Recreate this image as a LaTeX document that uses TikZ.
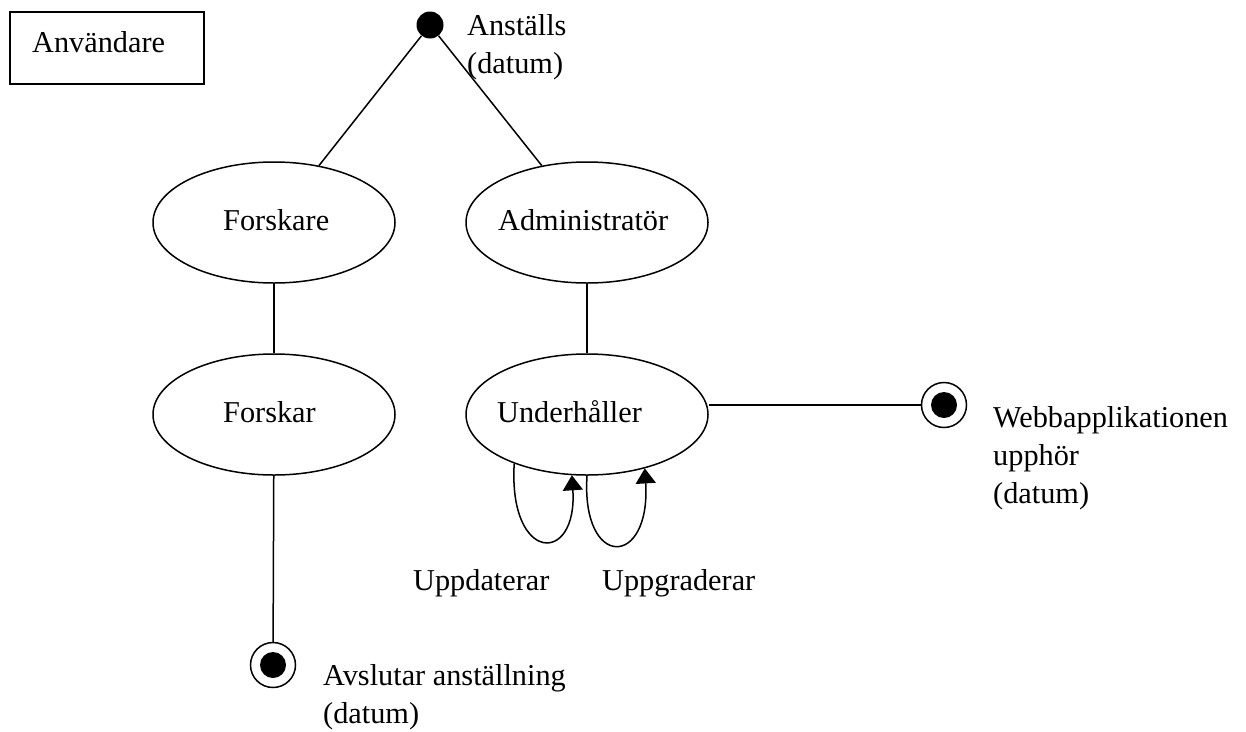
\documentclass[tikz,border=0pt]{standalone}
\usepackage{fontspec}
\setmainfont{Liberation Serif}
\usetikzlibrary{shapes.geometric,arrows.meta}
\begin{document}
\begin{tikzpicture}[x=1pt,y=-1pt,
  lw/.style={line width=1.5pt},
  state/.style={ellipse,draw,lw,minimum width=242pt,minimum height=121pt,inner sep=0pt},
  txt/.style={anchor=base west,inner sep=0pt,font=\fontsize{30.3}{38.5}\selectfont},
  startdot/.style={circle,fill=black,minimum size=27pt,inner sep=0pt},
  endring/.style={circle,draw,lw,minimum size=45pt,inner sep=0pt},
  enddot/.style={circle,fill=black,minimum size=26pt,inner sep=0pt},
  tip/.style={-{Triangle[width=20pt,length=15pt]}}]
\useasboundingbox (0,0) rectangle (1246,731);

% header box
\node[draw,lw,minimum width=194pt,minimum height=72pt,anchor=north west,inner sep=0pt] (user) at (9,11) {};
\node[txt] (usertxt) at (32,52) {Användare};

% initial state
\node[startdot] (init) at (430,25) {};
\node[txt] (initlbl) at (467,35) {Anställs};
\node[txt] (initdat) at (467,73.5) {(datum)};

% roles
\node[state] (forskare) at (274,222.5) {};
\node[txt] (forskaretxt) at (223,230) {Forskare};
\node[state] (admin) at (587,222.5) {};
\node[txt] (admintxt) at (498,230) {Administratör};

% activities
\node[state] (forskar) at (274,414.5) {};
\node[txt] (forskartxt) at (223,422) {Forskar};
\node[state] (underh) at (587,414.5) {};
\node[txt] (underhtxt) at (497,422) {Underhåller};

% final states
\node[endring] (endA) at (273,665) {};
\node[enddot] at (endA) {};
\node[endring] (endW) at (944,405) {};
\node[enddot] at (endW) {};

\node[txt] (endAl1) at (323,685) {Avslutar anställning};
\node[txt] (endAl2) at (323,723) {(datum)};
\node[txt] (endWl1) at (993,427) {Webbapplikationen};
\node[txt] (endWl2) at (993,465) {upphör};
\node[txt] (endWl3) at (993,503) {(datum)};

% connectors
\draw[lw] (init) -- (forskare);
\draw[lw] (init) -- (admin);
\draw[lw] (forskare) -- (forskar);
\draw[lw] (admin) -- (underh);
\draw[lw] (forskar) -- (endA);
\draw[lw] (endW) -- (endW -| underh.east);

% self transitions
\draw[lw,tip] (underh.214) .. controls +(-6,100) and +(6,90) .. (underh.256);
\draw[lw,tip] (underh.270) .. controls +(-6,94) and +(6,100) .. (underh.317);

\node[txt] (upd) at (413,590) {Uppdaterar};
\node[txt] (upg) at (602,590) {Uppgraderar};
\end{tikzpicture}
\end{document}
